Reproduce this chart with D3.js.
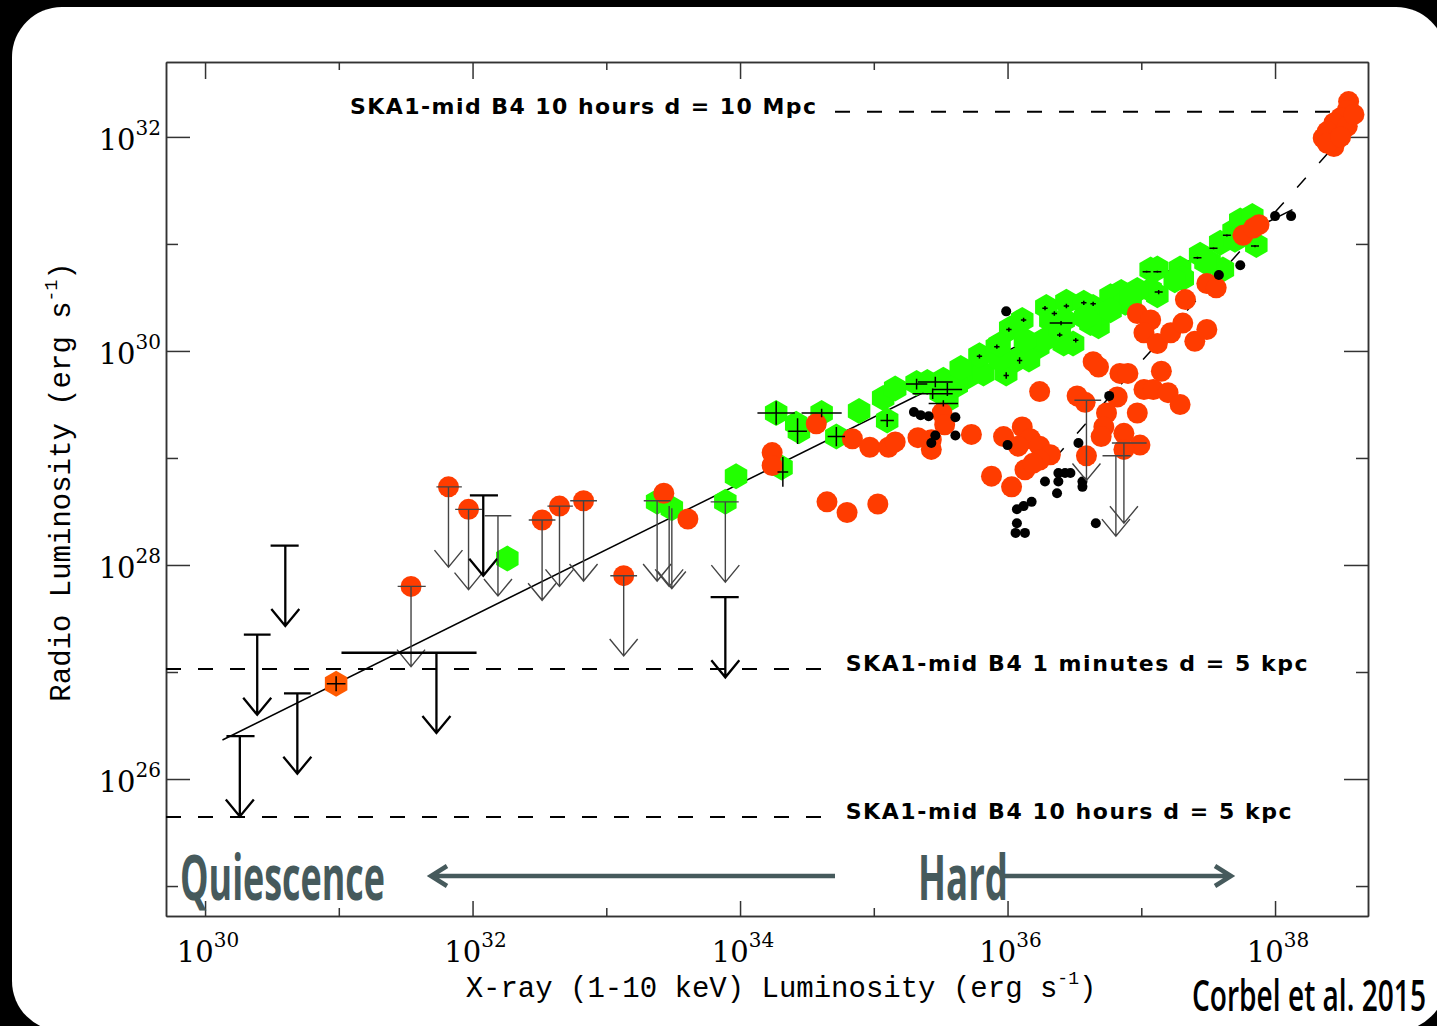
<!DOCTYPE html>
<html>
<head>
<meta charset="utf-8">
<script src="https://cdn.jsdelivr.net/npm/d3@7"></script>
<style>
  body { margin: 0; background: #000; }
  svg { display: block; }
</style>
</head>
<body>
<svg id="chart" width="1437" height="1026"></svg>
<script>
// all values are log10 of the luminosities [log Lx, log Lr]
var redPoints = [
  [34.24,29.05],[34.24,28.93],[34.57,29.32],[34.65,28.59],[34.80,28.49],[35.03,28.57],[34.84,29.18],[34.97,29.10],
  [35.11,29.10],[35.16,29.15],[35.33,29.19],[35.43,29.17],[35.43,29.08],[35.51,29.42],[35.53,29.31],[35.73,29.22],
  [36.64,29.90],[36.68,29.85],[36.24,29.62],[36.52,29.58],[36.58,29.52],[36.84,29.79],[36.90,29.79],[37.15,29.81],
  [37.02,29.64],[37.09,29.64],[37.20,29.61],[37.29,29.50],[36.82,29.57],[36.97,29.42],[36.74,29.42],[36.72,29.29],
  [36.87,29.23],[36.70,29.20],[36.99,29.12],[36.87,29.08],[36.59,29.02],[35.97,29.20],[36.11,29.29],[36.17,29.18],
  [36.24,29.11],[36.32,29.03],[36.24,28.98],[36.13,28.89],[35.88,28.83],[36.03,28.73],[36.19,28.95],[36.08,29.11],
  [36.97,30.35],[37.07,30.29],[37.02,30.17],[37.12,30.07],[37.22,30.17],[37.31,30.26],[37.40,30.09],[37.49,30.20],
  [37.33,30.48],[37.49,30.63],[37.56,30.59],[37.76,31.08],[37.84,31.15],[37.88,31.18],
  [38.55,32.33],[38.54,32.25],[38.49,32.18],[38.44,32.13],[38.39,32.05],[38.36,31.99],[38.44,31.91],[38.54,32.10],
  [38.59,32.21],[38.39,31.94],[38.49,32.00],
  [31.54,27.80],[31.82,28.73],[31.97,28.52],[32.52,28.42],[32.65,28.55],[32.83,28.60],[33.13,27.90],[33.43,28.67],[33.61,28.43]
];

var greenPoints = [
  [32.26,28.06],[33.38,28.59],[33.49,28.53],[33.89,28.59],[33.97,28.83],[34.27,29.42],[34.42,29.32],[34.44,29.25],
  [34.61,29.42],[34.72,29.20],[34.89,29.44],[35.07,29.56],[35.16,29.65],[35.10,29.35],[34.31,28.91],[35.32,29.70],
  [35.40,29.71],[35.52,29.73],[35.50,29.61],[35.55,29.54],[35.70,29.76],[35.74,29.82],[35.82,29.79],[35.79,29.96],
  [35.92,30.04],[36.02,30.21],[36.11,30.29],[35.99,29.79],[36.07,29.92],[36.23,30.04],[36.29,30.41],[36.44,30.46],
  [36.57,30.45],[36.64,30.41],[36.32,30.29],[36.42,30.29],[36.42,30.07],[36.49,30.07],[36.68,30.23],[36.77,30.51],
  [36.85,30.55],[36.88,30.45],[36.70,30.35],[37.07,30.76],[37.12,30.77],[37.07,30.57],[37.12,30.52],[37.29,30.77],
  [37.31,30.68],[37.44,30.90],[37.59,31.01],[37.61,30.76],[37.69,31.12],[37.74,31.22],[37.83,31.26],[37.86,30.99],
  [36.16,29.92],[36.27,30.10],[36.62,30.26],[36.97,30.57],[35.62,29.68],[37.51,30.83],[37.81,31.08],
  [35.94,29.92],[36.13,30.10],[36.39,30.20],[36.58,30.31],[36.77,30.38],[35.94,30.06],[36.92,30.50],[37.25,30.66],
  [37.48,30.83],[37.70,31.04],[35.65,29.84]
];

var orangePoints = [[30.98,26.89]];

var blackPoints = [
  [35.30,29.43],[35.35,29.40],[35.41,29.39],[35.46,29.21],[35.43,29.14],[35.61,29.38],[35.61,29.21],[35.99,30.37],
  [36.00,29.12],[36.76,29.58],[36.53,29.14],[36.38,28.86],[36.43,28.86],[36.47,28.86],[36.28,28.78],[36.38,28.78],
  [36.37,28.67],[36.56,28.78],[36.56,28.73],[36.18,28.59],[36.12,28.55],[36.07,28.52],[36.07,28.39],[36.06,28.30],
  [36.13,28.30],[36.66,28.39],[37.58,30.71],[37.74,30.80],[38.00,31.26],[38.12,31.26]
];

// upper limits: [log Lx, log Lr, cap left, cap right, thin]
var upperLimits = [
  [30.26,26.40,30.16,30.37,0],[30.39,27.35,30.29,30.49,0],[30.60,28.18,30.49,30.70,0],[30.69,26.80,30.59,30.79,0],
  [31.54,27.80,31.44,31.65,1],[31.73,27.18,31.02,32.03,0],[31.82,28.73,31.73,31.92,1],[31.97,28.52,31.87,32.07,1],
  [32.08,28.65,31.98,32.19,0],[32.19,28.46,32.09,32.29,1],[32.52,28.42,32.42,32.62,1],[32.65,28.55,32.56,32.75,1],
  [32.83,28.60,32.73,32.93,1],[33.13,27.90,33.03,33.23,1],[33.38,28.60,33.28,33.48,1],[33.47,28.55,33.47,33.47,1],
  [33.49,28.53,33.49,33.49,1],[33.89,28.59,33.78,33.99,1],[33.89,27.70,33.78,33.99,0],[36.59,29.54,36.50,36.70,1],
  [36.81,29.02,36.71,36.92,1],[36.87,29.14,36.78,37.04,1]
];

// error crosses: [log Lx, log Lr, half width, half height]
var crosses = [
  [34.27,29.42,0.14,0.11],[34.43,29.25,0.07,0.12],[34.61,29.42,0.15,0.04],[34.72,29.20,0.065,0.09],[35.10,29.35,0.05,0.06],
  [34.32,28.87,0.04,0.14],[35.32,29.69,0.08,0.05],[35.46,29.71,0.13,0.05],[35.44,29.60,0.15,0.05],[35.55,29.64,0.11,0.06],
  [35.52,29.51,0.11,0.03],[30.98,26.89,0.07,0.07],
  [35.79,29.95,0.02,0.02],[35.92,30.04,0.02,0.02],[36.01,30.20,0.02,0.02],[36.12,30.29,0.02,0.02],[36.28,30.40,0.02,0.02],
  [36.35,30.35,0.02,0.02],[36.44,30.42,0.02,0.02],[36.57,30.45,0.02,0.02],[36.64,30.44,0.02,0.02],[36.39,30.15,0.02,0.02],
  [36.51,30.10,0.02,0.02],[36.09,29.91,0.02,0.03],[35.99,29.77,0.02,0.03],[36.40,30.26,0.085,0.02],[37.04,30.74,0.03,0.01],
  [37.12,30.74,0.03,0.01],[37.13,30.55,0.03,0.02],[37.42,30.87,0.03,0.01],[37.54,30.96,0.03,0.01],[37.64,31.08,0.03,0.01],
  [37.85,30.98,0.03,0.01]
];

var fitX = [30.13, 38.13], fitY = [26.365, 31.32];
var trackX = [36.355, 38.523], trackY = [29.00, 32.027];

var sensLevels = [32.234, 27.028, 25.645];
var sensFrom = [34.71, 29.708, 29.708];
var sensTo = [38.695, 34.67, 34.67];
var sensLabels = ["SKA1-mid B4 10 hours d = 10 Mpc", "SKA1-mid B4 1 minutes d = 5 kpc", "SKA1-mid B4 10 hours d = 5 kpc"];

var xMajor = [30, 32, 34, 36, 38], xMinor = [31, 33, 35, 37];
var yMajor = [26, 28, 30, 32], yMinor = [25, 27, 29, 31];

var p10 = v => Math.pow(10, v);
var svg = d3.select("#chart");

svg.append("rect").attr("x", 12).attr("y", 7).attr("width", 1434).attr("height", 1024)
  .attr("rx", 50).attr("fill", "#fff");

var x = d3.scaleLog().domain([p10(29.708), p10(38.695)]).range([166, 1368]);
var y = d3.scaleLog().domain([p10(24.72), p10(32.70)]).range([916, 62]);
var X = v => x(p10(v)), Y = v => y(p10(v));

// frame and ticks
function axisSet(axisFn, vals, size, tr) {
  svg.append("g").attr("transform", tr)
    .call(axisFn.tickValues(vals.map(p10)).tickSize(size).tickSizeOuter(0).tickFormat(""))
    .call(g => g.selectAll("line,path").attr("stroke", "#333").attr("stroke-width", 1.5));
}
axisSet(d3.axisLeft(y), yMajor, -24, "translate(166,0)");
axisSet(d3.axisLeft(y), yMinor, -12, "translate(166,0)");
axisSet(d3.axisRight(y), yMajor, -24, "translate(1368,0)");
axisSet(d3.axisRight(y), yMinor, -12, "translate(1368,0)");
axisSet(d3.axisBottom(x), xMajor, -15, "translate(0,916)");
axisSet(d3.axisBottom(x), xMinor, -8, "translate(0,916)");
axisSet(d3.axisTop(x), xMajor, -17, "translate(0,62)");
axisSet(d3.axisTop(x), xMinor, -8, "translate(0,62)");

function powLabel(sel, exp) {
  sel.append("tspan").text("10");
  sel.append("tspan").attr("dy", -15).attr("font-size", 20).text(exp);
}
yMajor.forEach(v => {
  var t = svg.append("text").attr("x", 161).attr("y", Y(v) + 13).attr("text-anchor", "end")
    .attr("font-family", "DejaVu Serif").attr("font-size", 29).attr("fill", "#000");
  powLabel(t, v);
});
xMajor.forEach(v => {
  var t = svg.append("text").attr("x", X(v) + 3).attr("y", 962).attr("text-anchor", "middle")
    .attr("font-family", "DejaVu Serif").attr("font-size", 29).attr("fill", "#000");
  powLabel(t, v);
});

// axis titles
var xt = svg.append("text").attr("x", 781).attr("y", 997).attr("text-anchor", "middle")
  .attr("font-family", "Liberation Mono").attr("font-size", 29).attr("fill", "#000");
xt.append("tspan").text("X-ray (1-10 keV) Luminosity (erg s");
xt.append("tspan").attr("dy", -13).attr("font-size", 18).text("-1");
xt.append("tspan").attr("dy", 13).text(")");

var yt = svg.append("text").attr("transform", "translate(70,482) rotate(-90)").attr("text-anchor", "middle")
  .attr("font-family", "Liberation Mono").attr("font-size", 29).attr("fill", "#000");
yt.append("tspan").text("Radio Luminosity (erg s");
yt.append("tspan").attr("dy", -13).attr("font-size", 18).text("-1");
yt.append("tspan").attr("dy", 13).text(")");

// sensitivity levels
sensLevels.forEach((lv, i) => {
  svg.append("line").attr("x1", X(sensFrom[i])).attr("x2", X(sensTo[i]))
    .attr("y1", Y(lv)).attr("y2", Y(lv))
    .attr("stroke", "#000").attr("stroke-width", 2).attr("stroke-dasharray", "15,17");
  var t = svg.append("text").attr("y", Y(lv) + 2)
    .attr("font-family", "DejaVu Sans").attr("font-weight", "bold").attr("font-size", 22)
    .attr("fill", "#000").attr("lengthAdjust", "spacing").text(sensLabels[i]);
  if (i == 0) t.attr("x", X(sensFrom[i]) - 19).attr("text-anchor", "end").attr("textLength", 466);
  else t.attr("x", X(sensTo[i]) + 16).attr("textLength", i == 1 ? 462 : 446);
});

// correlation lines
var line = d3.line().x(d => X(d[0])).y(d => Y(d[1]));
svg.append("path").attr("d", line(d3.zip(fitX, fitY)))
  .attr("fill", "none").attr("stroke", "#000").attr("stroke-width", 1.5);

// markers
var hex = d3.range(6).map(k => [13 * Math.cos(Math.PI / 6 + k * Math.PI / 3), 13 * Math.sin(Math.PI / 6 + k * Math.PI / 3)]);
var hexPath = "M" + hex.map(p => p.join(",")).join("L") + "Z";

svg.append("g").selectAll("path").data(greenPoints).enter().append("path")
  .attr("d", hexPath).attr("transform", d => "translate(" + X(d[0]) + "," + Y(d[1]) + ")")
  .attr("fill", "#22ff00");
svg.append("g").selectAll("path").data(orangePoints).enter().append("path")
  .attr("d", hexPath).attr("transform", d => "translate(" + X(d[0]) + "," + Y(d[1]) + ")")
  .attr("fill", "#ff5a00");

svg.append("path").attr("d", line(d3.zip(trackX, trackY)))
  .attr("fill", "none").attr("stroke", "#000").attr("stroke-width", 1.5).attr("stroke-dasharray", "13,20");

svg.append("g").selectAll("circle").data(redPoints).enter().append("circle")
  .attr("cx", d => X(d[0])).attr("cy", d => Y(d[1])).attr("r", 10.5).attr("fill", "#ff3c00");
svg.append("g").selectAll("circle").data(blackPoints).enter().append("circle")
  .attr("cx", d => X(d[0])).attr("cy", d => Y(d[1])).attr("r", 5).attr("fill", "#000");

// error crosses
svg.append("g").selectAll("path").data(crosses).enter().append("path")
  .attr("d", d => "M" + X(d[0] - d[2]) + "," + Y(d[1]) + "H" + X(d[0] + d[2]) +
    "M" + X(d[0]) + "," + Y(d[1] - d[3]) + "V" + Y(d[1] + d[3]))
  .attr("stroke", "#000").attr("stroke-width", 1.5).attr("fill", "none");

// upper limits
svg.append("g").selectAll("path").data(upperLimits).enter().append("path")
  .attr("d", d => {
    var cx = X(d[0]), top = Y(d[1]), tip = Y(d[1] - 0.75);
    return "M" + X(d[2]) + "," + top + "H" + X(d[3]) +
      "M" + cx + "," + top + "V" + tip +
      "M" + (cx - 14) + "," + (tip - 17) + "L" + cx + "," + tip + "L" + (cx + 14) + "," + (tip - 17);
  })
  .attr("fill", "none")
  .attr("stroke", d => d[4] ? "#444" : "#000")
  .attr("stroke-width", d => d[4] ? 1.4 : 2.3);

// state annotations
var slate = "#465a5c";
svg.append("text").attr("x", 180).attr("y", 900).attr("font-family", "Open Sans").attr("font-weight", "bold")
  .attr("font-size", 62).attr("fill", slate).attr("textLength", 205).attr("lengthAdjust", "spacingAndGlyphs")
  .text("Quiescence");
svg.append("text").attr("x", 918).attr("y", 900).attr("font-family", "Open Sans").attr("font-weight", "bold")
  .attr("font-size", 62).attr("fill", slate).attr("textLength", 90).attr("lengthAdjust", "spacingAndGlyphs")
  .text("Hard");
svg.append("path").attr("d", "M835,876H432M447,866L431,876L447,886")
  .attr("stroke", slate).attr("stroke-width", 4.5).attr("fill", "none");
svg.append("path").attr("d", "M1003,876H1230M1215,866L1231,876L1215,886")
  .attr("stroke", slate).attr("stroke-width", 4.5).attr("fill", "none");

svg.append("text").attr("x", 1192).attr("y", 1011).attr("font-family", "Open Sans").attr("font-weight", 600)
  .attr("font-size", 43).attr("fill", "#000").attr("textLength", 234).attr("lengthAdjust", "spacingAndGlyphs")
  .text("Corbel et al. 2015");
</script>
</body>
</html>
